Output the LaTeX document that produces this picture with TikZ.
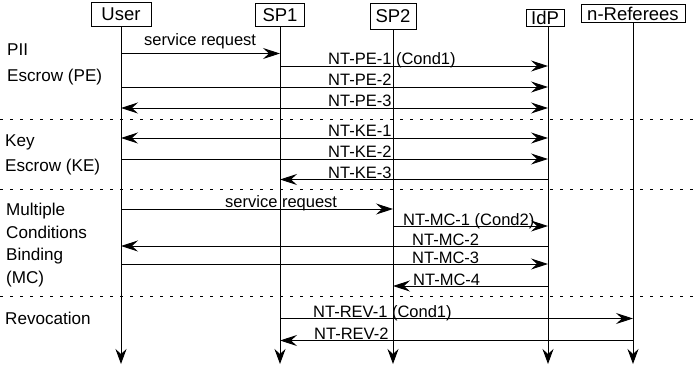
\documentclass[tikz,border=0pt]{standalone}
\usepackage{fontspec}
\setmainfont{Liberation Sans}
\usetikzlibrary{arrows.meta}

\begin{document}
\begin{tikzpicture}[x=1pt, y=-1pt,
  >={Stealth[length=17pt, width=11pt, inset=6pt]},
  actor/.style={draw, line width=0.8pt, inner sep=0pt, font=\fontsize{18.5}{22}\selectfont},
  life/.style={line width=0.9pt, -{Stealth[length=15pt, width=11pt, inset=5pt]}},
  msg/.style={line width=0.9pt, ->},
  both/.style={line width=0.9pt, <->},
  lbl/.style={anchor=base west, inner sep=0pt, font=\fontsize{16.5}{20}\selectfont},
  phase/.style={anchor=north west, inner sep=0pt, align=left, font=\fontsize{17.1}{22.5}\selectfont},
  sep/.style={line width=0.9pt, dash pattern=on 2.5pt off 7.5pt}]
\useasboundingbox (0,0) rectangle (697,370);

% actors
\node[actor, minimum width=60, minimum height=24] (user) at (121,14.7) {User};
\node[actor, minimum width=49, minimum height=23.4] (sp1) at (280,15) {SP1};
\node[actor, minimum width=46, minimum height=26] (sp2) at (393,16.3) {SP2};
\node[actor, minimum width=38, minimum height=16.7] (idp) at (545,17.7) {IdP};
\node[actor, minimum width=104, minimum height=18.7] (ref) at (633,13.4) {n-Referees};

% lifelines
\coordinate (bottom) at (0,364);
\coordinate (idpL) at (548,0);
\draw[life] (user.south) -- (user.south |- bottom);
\draw[life] (sp1.south) -- (sp1.south |- bottom);
\draw[life] (sp2.south) -- (sp2.south |- bottom);
\draw[life] (idp.south -| idpL) -- (idpL |- bottom);
\draw[life] (ref.south) -- (ref.south |- bottom);

% phases
\node[phase] (pe) at (7,44) {PII\\[3pt]Escrow (PE)};
\node[phase] (ke) at (5,135) {Key\\[2pt]Escrow (KE)};
\node[phase] (mc) at (6,203.3) {Multiple\\Conditions\\Binding\\(MC)};
\node[phase] (rev) at (5,311.7) {Revocation};

\draw[sep] (0,119) -- (697,119);
\draw[sep] (0,189.3) -- (697,189.3);
\draw[sep] (0,296.7) -- (697,296.7);

% rows
\coordinate (sr1) at (0,53.5);
\coordinate (pe1) at (0,66);
\coordinate (pe2) at (0,87);
\coordinate (pe3) at (0,108);
\coordinate (ke1) at (0,138);
\coordinate (ke2) at (0,159);
\coordinate (ke3) at (0,179.5);
\coordinate (sr2) at (0,209);
\coordinate (mc1) at (0,226);
\coordinate (mc2) at (0,246);
\coordinate (mc3) at (0,264);
\coordinate (mc4) at (0,286);
\coordinate (rev1) at (0,318.5);
\coordinate (rev2) at (0,340.5);

% PII escrow
\draw[msg] (user |- sr1) -- (sp1 |- sr1);
\node[lbl] (t-sr1) at (144,45) {service request};
\draw[msg] (sp1 |- pe1) -- (idpL |- pe1);
\node[lbl] (t-pe1) at (328,64.5) {NT-PE-1 (Cond1)};
\draw[msg] (user |- pe2) -- (idpL |- pe2);
\node[lbl] (t-pe2) at (328,85.5) {NT-PE-2};
\draw[both] (user |- pe3) -- (idpL |- pe3);
\node[lbl] (t-pe3) at (328,106.5) {NT-PE-3};

% key escrow
\draw[both] (user |- ke1) -- (idpL |- ke1);
\node[lbl] (t-ke1) at (328,136.5) {NT-KE-1};
\draw[msg] (user |- ke2) -- (idpL |- ke2);
\node[lbl] (t-ke2) at (328,157.5) {NT-KE-2};
\draw[msg] (idpL |- ke3) -- (sp1 |- ke3);
\node[lbl] (t-ke3) at (328,178) {NT-KE-3};

% multiple conditions
\draw[msg] (user |- sr2) -- (sp2 |- sr2);
\node[lbl] (t-sr2) at (225,207) {service request};
\draw[msg] (sp2 |- mc1) -- (idpL |- mc1);
\node[lbl] (t-mc1) at (403,225) {NT-MC-1 (Cond2)};
\draw[msg] (idpL |- mc2) -- (user |- mc2);
\node[lbl] (t-mc2) at (412,245) {NT-MC-2};
\draw[msg] (user |- mc3) -- (idpL |- mc3);
\node[lbl] (t-mc3) at (412,263) {NT-MC-3};
\draw[msg] (idpL |- mc4) -- (sp2 |- mc4);
\node[lbl] (t-mc4) at (413,285) {NT-MC-4};

% revocation
\draw[msg] (sp1 |- rev1) -- (ref |- rev1);
\node[lbl] (t-rev1) at (313,317) {NT-REV-1 (Cond1)};
\draw[msg] (ref |- rev2) -- (sp1 |- rev2);
\node[lbl] (t-rev2) at (314,339) {NT-REV-2};
\end{tikzpicture}
\end{document}
